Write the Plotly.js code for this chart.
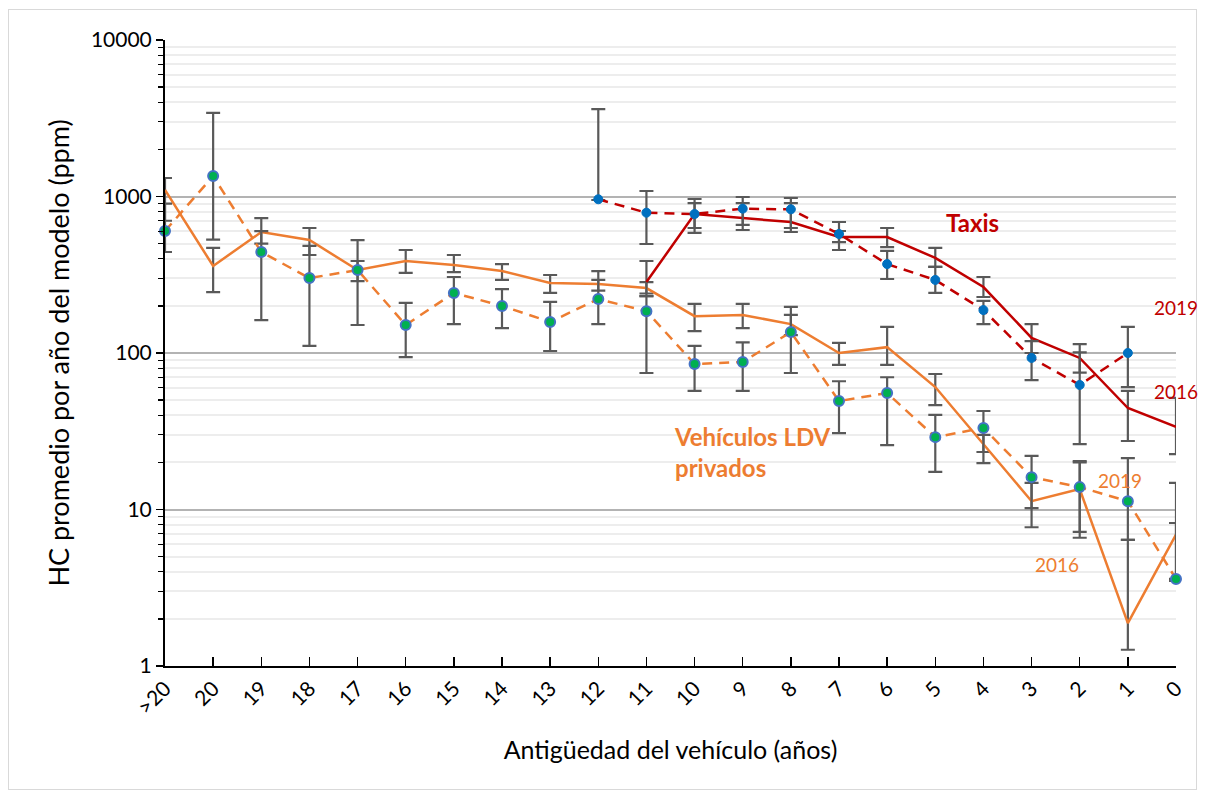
<!DOCTYPE html>
<html><head><meta charset="utf-8">
<script src="https://cdn.plot.ly/plotly-3.0.1.min.js"></script>
<style>
body{margin:0;background:#fff;}
#frame{position:absolute;left:8px;top:9px;width:1189px;height:781px;border:1px solid #d9d9d9;box-sizing:border-box;}
#chart{position:absolute;left:0;top:0;width:1205px;height:793px;}
</style>
</head><body>
<div id="frame"></div>
<div id="chart"></div>
<script>
// Categories (vehicle age, years)
const categories = [">20","20","19","18","17","16","15","14","13","12","11","10","9","8","7","6","5","4","3","2","1","0"];

// Private LDV vehicles, 2016 (solid)
const ldv2016   = [1100,360,593,527,339,387,365,334,280,276,260,172,175,153,100,109,60.6,26,11.3,13.5,1.88,6.9];
const ldv2016Hi = [1313,469,728,629,387,455,423,370,315,334,284,206,206,197,116,147,73.4,30,14.8,20.4,6.4,14.8];
const ldv2016Lo = [700,245,500,423,288,325,329,293,242,250,240,138,144,130,84,84,46.5,23.3,10.2,7.2,1.27,3.6];

// Private LDV vehicles, 2019 (dashed, markers)
const ldv2019   = [602,1350,442,301,339,151,242,200,158,221,185,85,87.6,136,49.3,55.5,29,33.2,16.1,13.9,11.3,3.6];
const ldv2019Hi = [900,3420,600,483,527,209,306,256,212,293,231,111,117,175,66,70,40.2,42.6,22,20,21.3,8.2];
const ldv2019Lo = [442,530,162,111,151,94,153,144,103,153,74.5,57.2,57.2,74.5,30.8,25.8,17.4,19.8,7.7,6.6,6.4,3.5];

// Taxis, 2016 (solid)
const taxi2016   = [null,null,null,null,null,null,null,null,null,null,284,773,728,687,551,551,405,264,125,93,44.5,33.7];
const taxi2016Hi = [null,null,null,null,null,null,null,null,null,null,387,908,908,908,602,629,469,306,153,114,57.2,51.6];
const taxi2016Lo = [null,null,null,null,null,null,null,null,null,null,231,629,658,629,511,475,355,228,100,75,27.4,22.6];

// Taxis, 2019 (dashed, markers)
const taxi2019   = [null,null,null,null,null,null,null,null,null,960,788,773,836,828,576,370,293,188,93,62.5,100,null];
const taxi2019Hi = [null,null,null,null,null,null,null,null,null,3620,1084,964,993,978,687,449,355,215,119,101,147,null];
const taxi2019Lo = [null,null,null,null,null,null,null,null,null,950,497,585,611,593,455,297,242,153,67,26.2,60.6,null];

const ORANGE = '#ED7D31', RED = '#C00000', EBAR = '#595959';

function err(v, hi, lo){
  return {
    type:'data', symmetric:false, visible:true,
    array: v.map((x,i)=> x==null ? null : hi[i]-x),
    arrayminus: v.map((x,i)=> x==null ? null : x-lo[i]),
    color: EBAR, thickness: 2.2, width: 7
  };
}

const traces = [
  {x:categories, y:ldv2016, type:'scatter', mode:'lines', name:'LDV 2016', cliponaxis:false,
   line:{color:ORANGE, width:2.5}, error_y: err(ldv2016, ldv2016Hi, ldv2016Lo)},
  {x:categories, y:taxi2016, type:'scatter', mode:'lines', name:'Taxis 2016', cliponaxis:false,
   line:{color:RED, width:2.5}, connectgaps:false, error_y: err(taxi2016, taxi2016Hi, taxi2016Lo)},
  {x:categories, y:ldv2019, type:'scatter', mode:'lines+markers', name:'LDV 2019', cliponaxis:false,
   line:{color:ORANGE, width:2.5, dash:'10px,7px'},
   marker:{color:'#00B050', size:10, line:{color:'#4472C4', width:2}},
   error_y: err(ldv2019, ldv2019Hi, ldv2019Lo)},
  {x:categories, y:taxi2019, type:'scatter', mode:'lines+markers', name:'Taxis 2019', cliponaxis:false,
   line:{color:RED, width:2.5, dash:'10px,7px'}, connectgaps:false,
   marker:{color:'#0070C0', size:9, line:{color:'#0070C0', width:1}},
   error_y: err(taxi2019, taxi2019Hi, taxi2019Lo)}
];

const FONT = 'Lato, "Open Sans", sans-serif';
const L = 165, R = 1176, T = 40, B = 666;
function px(xp){ return (xp-L)/(R-L); }
function py(yp){ return (B-yp)/(B-T); }

const layout = {
  width:1205, height:793,
  margin:{l:L, r:1205-R, t:T, b:793-B, pad:0},
  paper_bgcolor:'rgba(0,0,0,0)', plot_bgcolor:'#fff',
  showlegend:false,
  font:{family:FONT, color:'#000', size:18},
  xaxis:{
    type:'category', range:[0, categories.length-1],
    showgrid:false, zeroline:false,
    showline:true, linecolor:'#000', linewidth:2,
    ticks:'inside', ticklen:9, tickcolor:'#000', tickwidth:1.3,
    tickangle:-45, tickfont:{family:FONT, size:21, color:'#000'},
    title:{text:'Antigüedad del vehículo (años)', font:{family:FONT, size:25, color:'#000'}, standoff:24}
  },
  yaxis:{
    type:'log', range:[0,4],
    tickvals:[1,10,100,1000,10000], ticktext:['1','10','100','1000','10000'],
    showline:true, linecolor:'#000', linewidth:2,
    ticks:'outside', ticklen:7, tickcolor:'#000', tickwidth:1.5,
    showgrid:true, gridcolor:'#b3b3b3', gridwidth:2,
    zeroline:false,
    tickfont:{family:FONT, size:21, color:'#000'},
    minor:{dtick:'D1', ticks:'outside', ticklen:5, tickcolor:'#000', tickwidth:1.3,
           showgrid:true, gridcolor:'#ededed', gridwidth:2},
    title:{text:'HC promedio por año del modelo (ppm)', font:{family:FONT, size:27, color:'#000'}, standoff:13}
  },
  annotations:[
    {xref:'paper', yref:'paper', x:px(972), y:py(222), xanchor:'center', yanchor:'middle', text:'<b>Taxis</b>', showarrow:false,
     font:{family:FONT, size:24, color:RED}},
    {xref:'paper', yref:'paper', x:px(1176), y:py(307), xanchor:'center', yanchor:'middle', text:'2019', showarrow:false,
     font:{family:FONT, size:19, color:RED}},
    {xref:'paper', yref:'paper', x:px(1176), y:py(391), xanchor:'center', yanchor:'middle', text:'2016', showarrow:false,
     font:{family:FONT, size:19, color:RED}},
    {xref:'paper', yref:'paper', x:px(672), y:py(452), xanchor:'left', yanchor:'middle', align:'left',
     text:'<b>Vehículos LDV<br>privados</b>', showarrow:false,
     font:{family:FONT, size:24, color:ORANGE}},
    {xref:'paper', yref:'paper', x:px(1120), y:py(480), xanchor:'center', yanchor:'middle', text:'2019', showarrow:false,
     font:{family:FONT, size:19, color:ORANGE}},
    {xref:'paper', yref:'paper', x:px(1057), y:py(564), xanchor:'center', yanchor:'middle', text:'2016', showarrow:false,
     font:{family:FONT, size:19, color:ORANGE}}
  ]
};

Plotly.newPlot('chart', traces, layout, {displayModeBar:false, staticPlot:true});
</script>
</body></html>
